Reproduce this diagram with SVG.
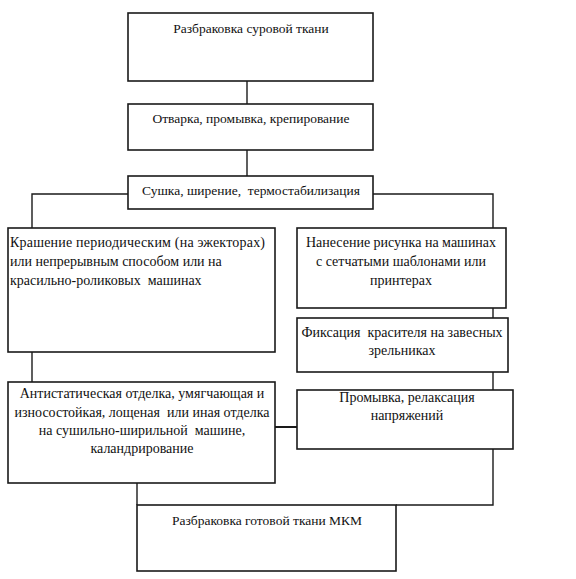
<svg xmlns="http://www.w3.org/2000/svg" width="576" height="579" viewBox="0 0 576 579">
<style>
.box{fill:#fff;stroke:#1a1a1a;stroke-width:1.6}
.ln{fill:none;stroke:#1a1a1a;stroke-width:1.4}
text{font-family:'Liberation Serif','DejaVu Serif',serif;font-size:14px;fill:#111}
.c{text-anchor:middle}
.s{font-size:13.5px}
</style>
<rect width="576" height="579" fill="#fff"/>
<g id="connectors">
<line class="ln" x1="247" y1="81" x2="247" y2="104"/>
<line class="ln" x1="247" y1="150" x2="247" y2="176"/>
<polyline class="ln" points="32,228 32,194 493,194 493,228"/>
<line class="ln" x1="493" y1="308" x2="493" y2="318"/>
<line class="ln" x1="493" y1="372" x2="493" y2="390"/>
<line class="ln" x1="32" y1="352" x2="32" y2="382"/>
<line class="ln" x1="275" y1="427" x2="297" y2="427" style="stroke-width:2"/>
<polyline class="ln" points="493,449 493,505 396,505"/>
<line class="ln" x1="137" y1="483" x2="137" y2="505"/>
</g>
<g id="n1"><rect class="box" x="128" y="13" width="245" height="68"/><text class="c s" x="251" y="33">Разбраковка суровой ткани</text></g>
<g id="n2"><rect class="box" x="128" y="104" width="245" height="46"/><text class="c s" x="251" y="123">Отварка, промывка, крепирование</text></g>
<g id="n3"><rect class="box" x="128" y="176" width="245" height="33"/><text class="c s" x="251" y="195" xml:space="preserve">Сушка, ширение,  термостабилизация</text></g>
<g id="n4"><rect class="box" x="8" y="228" width="267" height="124"/>
<text x="10" y="247" textLength="255">Крашение периодическим (на эжекторах)</text>
<text x="10" y="266">или непрерывным способом или на</text>
<text x="10" y="285" xml:space="preserve">красильно-роликовых  машинах</text></g>
<g id="n5"><rect class="box" x="297" y="228" width="209" height="80"/>
<text class="c" x="401" y="247">Нанесение рисунка на машинах</text>
<text class="c" x="401" y="266">с сетчатыми шаблонами или</text>
<text class="c" x="401" y="285">принтерах</text></g>
<g id="n6"><rect class="box" x="297" y="318" width="211" height="54"/>
<text class="c" x="402" y="337" xml:space="preserve">Фиксация  красителя на завесных</text>
<text class="c" x="402" y="355">зрельниках</text></g>
<g id="n7"><rect class="box" x="8" y="382" width="267" height="101"/>
<text class="c" x="142" y="398">Антистатическая отделка, умягчающая и</text>
<text class="c" x="142" y="417" xml:space="preserve">износостойкая, лощеная  или иная отделка</text>
<text class="c" x="142" y="435" xml:space="preserve">на сушильно-ширильной  машине,</text>
<text class="c" x="142" y="453">каландрирование</text></g>
<g id="n8"><rect class="box" x="297" y="390" width="216" height="59"/>
<text class="c" x="407" y="402">Промывка, релаксация</text>
<text class="c" x="407" y="420">напряжений</text></g>
<g id="n9"><rect class="box" x="137" y="505" width="259" height="66"/>
<text class="c s" x="267" y="525">Разбраковка готовой ткани МКМ</text></g>
</svg>
